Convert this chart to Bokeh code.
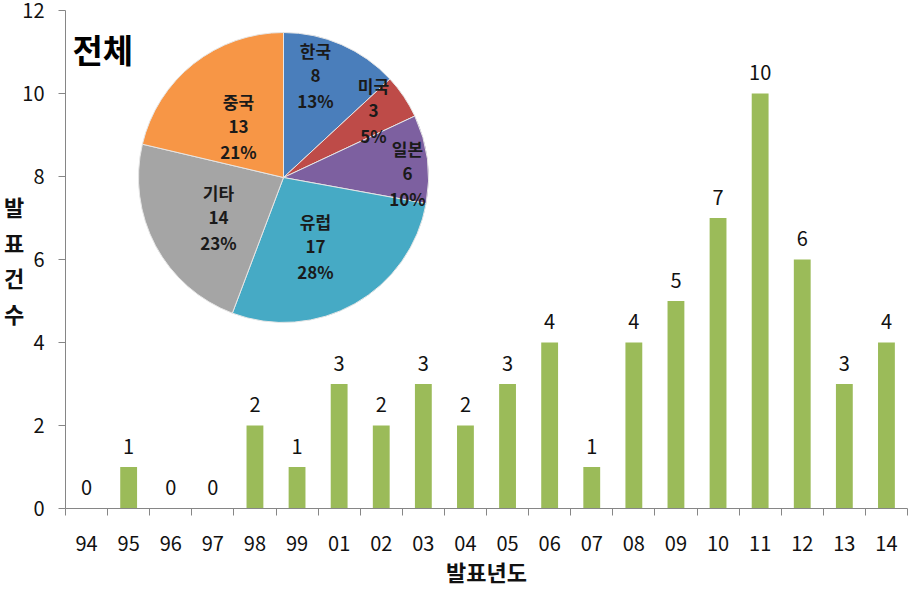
import math
from bokeh.plotting import figure
from bokeh.models import FixedTicker, Label, ColumnDataSource
from bokeh.core.properties import value
from bokeh.embed import file_html
from bokeh.resources import INLINE

# ---- data ----
years = ["94", "95", "96", "97", "98", "99", "01", "02", "03", "04",
         "05", "06", "07", "08", "09", "10", "11", "12", "13", "14"]
counts = [0, 1, 0, 0, 2, 1, 3, 2, 3, 2, 3, 4, 1, 4, 5, 7, 10, 6, 3, 4]
y_ticks = [0, 2, 4, 6, 8, 10, 12]

pie_names = ["한국", "미국", "일본", "유럽", "기타", "중국"]
pie_counts = [8, 3, 6, 17, 14, 13]
pie_colors = ["#4A7EBB", "#BE4B48", "#7D60A0", "#46AAC5", "#A5A5A5", "#F79646"]

title_text = "전체"
x_title = "발표년도"
y_title = "발표건수"

# ---- layout (pixels) ----
FONT = "Noto Sans CJK KR"
W, H = 912, 589
FL, FR, FT, FB = 65, 5, 10, 81
frame_w = W - FL - FR
frame_h = H - FT - FB
ymax = 12
# pie center, relative to frame top-left, in px
pie_cx_px, pie_cy_px = 218, 167
pie_r = 145
# label middle-line offsets from pie center (px, y down)
lab_off = [(32, -102), (90, -67), (124, -4), (32, 69), (-65, 40), (-45, -51)]
line_gap = 25

p = figure(width=W, height=H, x_range=(0, len(years)), y_range=(0, ymax),
           output_backend="svg", toolbar_location=None,
           min_border_left=FL, min_border_right=FR, min_border_top=FT,
           min_border_bottom=FB)
p.outline_line_color = None
p.grid.visible = False
p.background_fill_color = "white"

xs = [i + 0.5 for i in range(len(years))]
src = ColumnDataSource(dict(x=xs, top=counts, label=[str(c) for c in counts]))
p.vbar(x="x", top="top", bottom=0, width=0.4, source=src,
       fill_color="#9BBB59", line_color=None)
p.text(x="x", y="top", text="label", source=src, text_align="center",
       text_baseline="middle", y_offset=-21, text_font=value(FONT),
       text_font_size="20px", text_color="#111111")

# axes
axis_col = "#868686"
xa = p.xaxis[0]
xa.ticker = FixedTicker(ticks=xs, minor_ticks=list(range(len(years) + 1)))
xa.major_label_overrides = {x: y for x, y in zip(xs, years)}
xa.major_tick_out = 0
xa.major_tick_in = 0
xa.minor_tick_out = 7
xa.minor_tick_in = 0
xa.minor_tick_line_color = axis_col
xa.axis_line_color = axis_col
xa.major_label_standoff = 20
xa.major_label_text_font = FONT
xa.major_label_text_font_size = "20px"
xa.major_label_text_color = "#111111"
xa.axis_label = x_title
xa.axis_label_text_font = FONT
xa.axis_label_text_font_size = "22px"
xa.axis_label_text_font_style = "bold"
xa.axis_label_text_color = "#111111"
xa.axis_label_standoff = 1

ya = p.yaxis[0]
ya.ticker = FixedTicker(ticks=y_ticks)
ya.minor_tick_line_color = None
ya.major_tick_out = 7
ya.major_tick_in = 0
ya.major_tick_line_color = axis_col
ya.axis_line_color = axis_col
ya.major_label_standoff = 14
ya.major_label_text_font = FONT
ya.major_label_text_font_size = "20px"
ya.major_label_text_color = "#111111"
ya.axis_label = "\n".join(y_title)
ya.axis_label_orientation = "horizontal"
ya.axis_label_text_font = FONT
ya.axis_label_text_font_size = "22px"
ya.axis_label_text_font_style = "bold"
ya.axis_label_text_color = "#111111"
ya.axis_label_text_line_height = 1.12
ya.axis_label_standoff = -5

# pie
total = sum(pie_counts)
px_per_x = frame_w / len(years)
px_per_y = frame_h / ymax
cx = pie_cx_px / px_per_x
cy = ymax - pie_cy_px / px_per_y
starts, ends = [], []
cum = 0
for v in pie_counts:
    starts.append(math.pi / 2 - 2 * math.pi * cum / total)
    cum += v
    ends.append(math.pi / 2 - 2 * math.pi * cum / total)
psrc = ColumnDataSource(dict(x=[cx] * len(pie_counts), y=[cy] * len(pie_counts),
                             s=starts, e=ends, c=pie_colors))
p.wedge(x="x", y="y", radius=pie_r, radius_units="screen", start_angle="s",
        end_angle="e", direction="clock", fill_color="c", line_color="#E6E6E6",
        line_width=1, source=psrc)

tx, ty, tt, dx, dy = [], [], [], [], []
for name, v, (ox, oy) in zip(pie_names, pie_counts, lab_off):
    pct = f"{round(v / total * 100)}%"
    for k, t in enumerate([name, str(v), pct]):
        tx.append(cx)
        ty.append(cy)
        tt.append(t)
        dx.append(ox)
        dy.append(oy + (k - 1) * line_gap)
lsrc = ColumnDataSource(dict(x=tx, y=ty, t=tt, dx=dx, dy=dy))
p.text(x="x", y="y", text="t", x_offset="dx", y_offset="dy", source=lsrc,
       text_align="center", text_baseline="middle", text_font=value(FONT),
       text_font_size="17px", text_font_style="bold", text_color="#1a1a1a")

p.add_layout(Label(x=7, y=frame_h - 38, x_units="screen", y_units="screen",
                   text=title_text, text_font=FONT, text_font_size="33px",
                   text_font_style="bold", text_align="left", text_baseline="middle",
                   text_color="#000000"))

open("out.html", "w").write(file_html(p, INLINE))
